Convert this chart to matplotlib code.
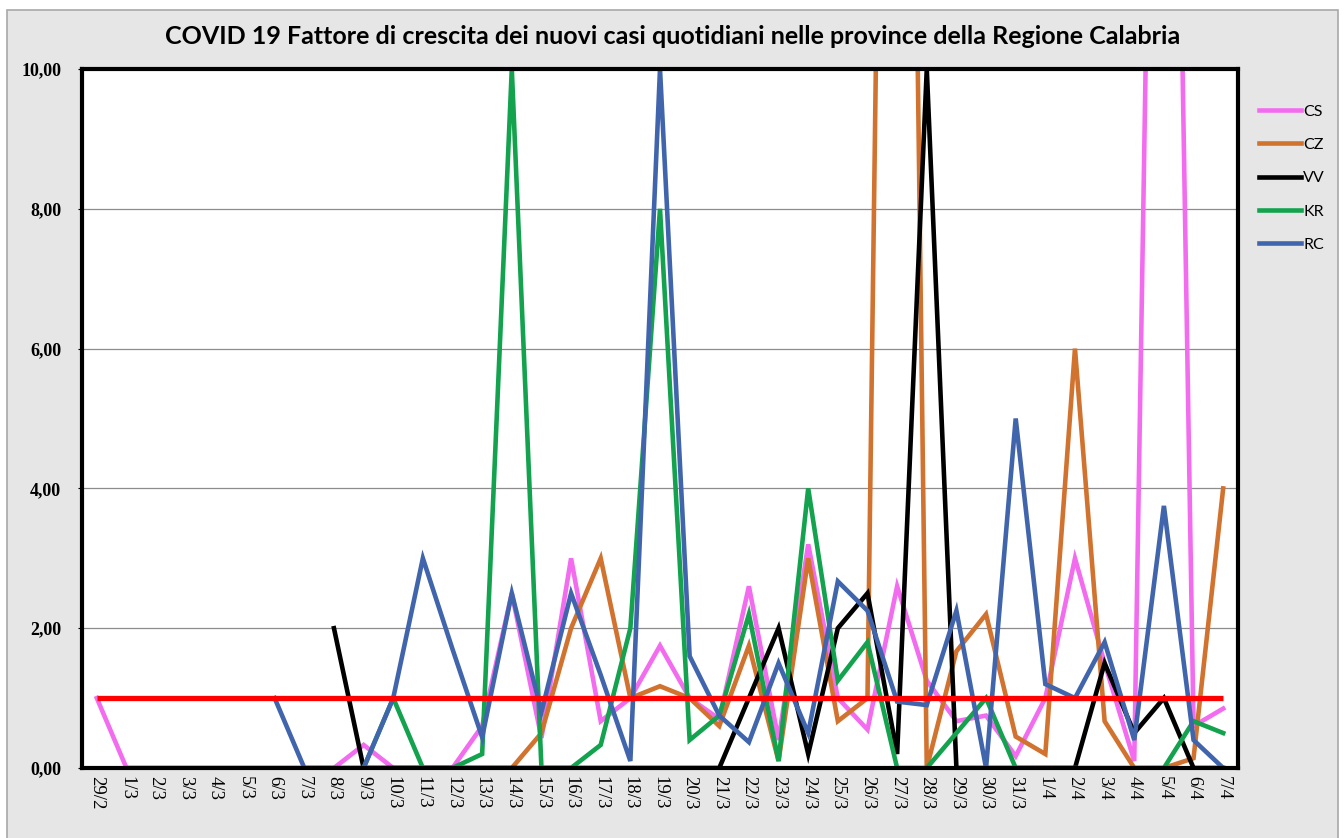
import numpy as np
import matplotlib
matplotlib.use("Agg")
import matplotlib.pyplot as plt
from matplotlib.patches import Rectangle

nan = np.nan

# categories (days)
giorni = ['29/2', '1/3', '2/3', '3/3', '4/3', '5/3', '6/3', '7/3', '8/3', '9/3',
          '10/3', '11/3', '12/3', '13/3', '14/3', '15/3', '16/3', '17/3', '18/3', '19/3',
          '20/3', '21/3', '22/3', '23/3', '24/3', '25/3', '26/3', '27/3', '28/3', '29/3',
          '30/3', '31/3', '1/4', '2/4', '3/4', '4/4', '5/4', '6/4', '7/4']

# growth factor per province
cs = [1.0, 0, 0, 0, 0, 0, 0, 0, 0, 0.33,
      0, 0, 0, 0.6, 2.5, 0.43, 3.0, 0.67, 1.0, 1.75,
      1.0, 0.7, 2.6, 0.4, 3.2, 1.0, 0.55, 2.6, 1.25, 0.67,
      0.75, 0.17, 1.0, 3.0, 1.5, 0.1, 26, 0.6, 0.85]
cz = [nan, 0, 0, 0, 0, 0, 0, 0, 0, 0,
      0, 0, 0, 0, 0, 0.5, 2.0, 3.0, 1.0, 1.17,
      1.0, 0.6, 1.75, 0.1, 3.0, 0.67, 1.0, 33, 0, 1.67,
      2.2, 0.45, 0.2, 6.0, 0.67, 0, 0, 0.14, 4.0]
vv = [nan, nan, nan, nan, nan, nan, nan, nan, 2.0, 0,
      0, 0, 0, 0, 0, 0, 0, 0, 0, 0,
      0, 0, 1.0, 2.0, 0.2, 2.0, 2.5, 0.2, 10.0, 0,
      0, 0, 0, 0, 1.5, 0.5, 1.0, 0, 0]
kr = [nan, nan, nan, nan, nan, nan, nan, nan, nan, 0,
      1.0, 0, 0, 0.2, 10.0, 0, 0, 0.33, 2.0, 8.0,
      0.4, 0.75, 2.2, 0.1, 4.0, 1.25, 1.8, 0, 0, 0.5,
      1.0, 0, 0, 0, 0, 0, 0, 0.67, 0.5]
rc = [nan, nan, nan, nan, nan, nan, 1.0, 0, 0, 0,
      1.0, 3.0, 1.7, 0.44, 2.5, 0.8, 2.5, 1.33, 0.1, 10.0,
      1.6, 0.75, 0.37, 1.5, 0.5, 2.67, 2.25, 0.95, 0.9, 2.25,
      0, 5.0, 1.2, 1.0, 1.8, 0.4, 3.75, 0.4, 0]
soglia = 1.0

serie = [('CS', cs, '#f36cf0'), ('CZ', cz, '#d2722f'), ('VV', vv, '#000000'),
         ('KR', kr, '#13a24e'), ('RC', rc, '#4065ad')]

fig = plt.figure(figsize=(13.44, 8.38), dpi=100, facecolor='white')
fig.patches.append(Rectangle((7 / 1344, -0.01), 1331 / 1344, 1 - 10 / 838 + 0.01,
                             transform=fig.transFigure, facecolor='#e6e6e6',
                             edgecolor='#a8a8a8', lw=1.2, zorder=-10))

ax = fig.add_axes([82 / 1344, 1 - 768 / 838, (1238 - 82) / 1344, (768 - 69) / 838])
ax.set_zorder(2)
ax.set_facecolor('white')

x = np.arange(len(giorni))
for nome, valori, colore in serie:
    ax.plot(x, valori, color=colore, lw=3.3, label=nome, solid_joinstyle='miter')
ax.hlines(soglia, x[0], x[-1], color='#ff0000', lw=3.8, zorder=5)

ax.set_xlim(-0.5, len(giorni) - 0.5)
ax.set_ylim(0, 10)
ax.set_yticks(np.arange(0, 10.1, 2))
ax.set_yticklabels([f'{v:.2f}'.replace('.', ',') for v in np.arange(0, 10.1, 2)],
                   family='Liberation Serif', fontweight='bold', fontsize=13)
ax.set_xticks(x)
ax.set_xticklabels(giorni, rotation=270, family='Liberation Serif', fontsize=13.5)
ax.tick_params(axis='y', length=3, pad=12)
ax.tick_params(axis='x', length=0, pad=6)
ax.grid(axis='y', color='#8c8c8c', lw=0.9)
ax.set_axisbelow(True)
for s in ax.spines.values():
    s.set_linewidth(3)
    s.set_color('black')

fig.text(673 / 1344, 1 - 37 / 838,
         'COVID 19 Fattore di crescita dei nuovi casi quotidiani nelle province della Regione Calabria',
         ha='center', va='center', family='Lato', fontweight='bold', fontsize=18)

ax.legend(loc='upper left', bbox_to_anchor=(1238 / 1344 + 0.005, 1 - 90 / 838),
          bbox_transform=fig.transFigure, frameon=False, handlelength=2.6,
          handletextpad=0.15, labelspacing=1.2, prop={'family': 'Lato', 'size': 11.5})

fig.savefig('out.png', dpi=100, facecolor=fig.get_facecolor())
